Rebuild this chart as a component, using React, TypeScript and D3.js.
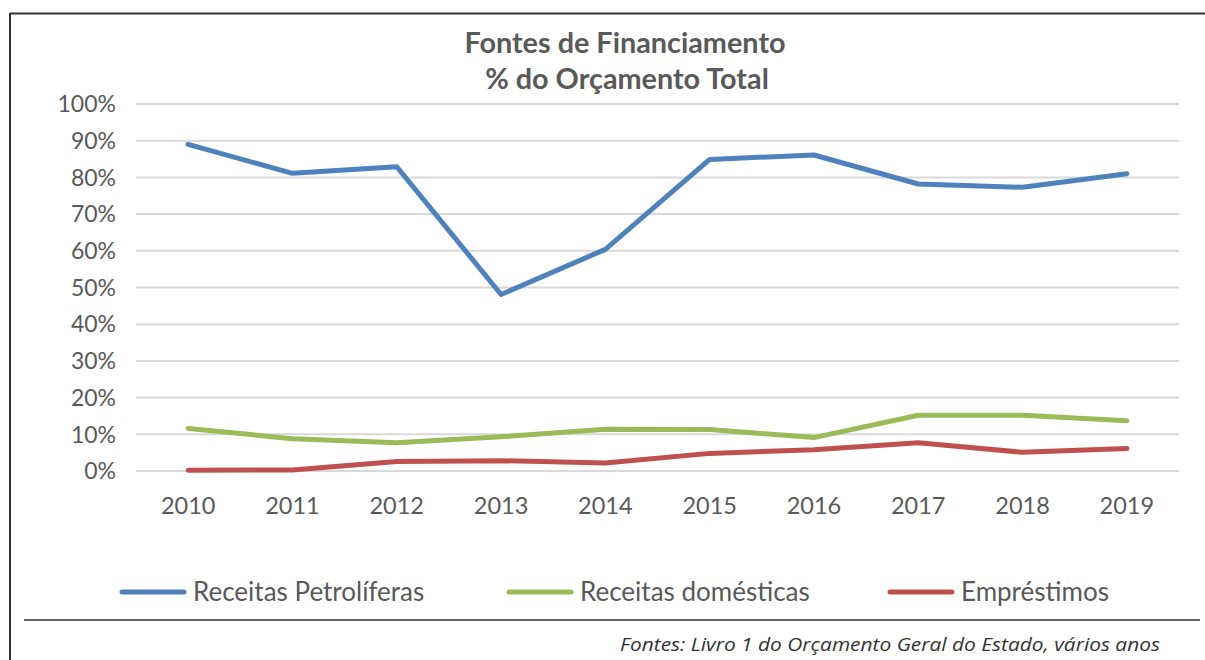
import React from "react";
import * as d3 from "d3";

const years = ["2010", "2011", "2012", "2013", "2014", "2015", "2016", "2017", "2018", "2019"];
const receitasPetroliferas = [89.0, 81.1, 82.9, 48.1, 60.4, 84.9, 86.1, 78.2, 77.3, 81.0];
const receitasDomesticas = [11.6, 8.8, 7.7, 9.3, 11.4, 11.3, 9.1, 15.2, 15.2, 13.7];
const emprestimos = [0.2, 0.3, 2.6, 2.8, 2.2, 4.8, 5.8, 7.7, 5.1, 6.1];
const yTicks = [0, 10, 20, 30, 40, 50, 60, 70, 80, 90, 100];

const seriesNames = ["Receitas Petrolíferas", "Receitas domésticas", "Empréstimos"];
const seriesColors = ["#4F81BD", "#9BBB59", "#C0504D"];
const seriesData = [receitasPetroliferas, receitasDomesticas, emprestimos];

const W = 1205;
const H = 660;
const plotLeft = 136;
const plotRight = 1179;
const plotTop = 104;
const plotBottom = 471;

const FONT = "Lato, 'Open Sans', sans-serif";
const TXT = "#595959";

export default function App() {
  const x = d3.scaleBand<string>().domain(years).range([plotLeft, plotRight]);
  const y = d3.scaleLinear().domain([0, 100]).range([plotBottom, plotTop]);
  const cx = (d: string) => (x(d) as number) + x.bandwidth() / 2;
  const line = d3
    .line<number>()
    .x((_, i) => cx(years[i]))
    .y((v) => y(v));

  const legendX = [120, 507, 888];

  return (
    <div style={{ position: "absolute", left: 0, top: 0 }}>
      <svg width={W} height={H} style={{ display: "block", background: "#fff" }}>
        {/* frame */}
        <line x1={10} y1={13.5} x2={W} y2={13.5} stroke="#333" strokeWidth={2} />
        <line x1={10} y1={13} x2={10} y2={H} stroke="#333" strokeWidth={2} />
        <line x1={24} y1={620} x2={1200} y2={620} stroke="#333" strokeWidth={1.5} />

        {/* title */}
        <text x={625} y={53} textAnchor="middle" fontFamily={FONT} fontWeight={700} fontSize={28.8} fill={TXT}>
          Fontes de Financiamento
        </text>
        <text x={627} y={89} textAnchor="middle" fontFamily={FONT} fontWeight={700} fontSize={28.8} fill={TXT}>
          % do Orçamento Total
        </text>

        {/* gridlines + y labels */}
        {yTicks.map((t) => (
          <g key={t}>
            <line x1={plotLeft} x2={plotRight} y1={y(t)} y2={y(t)} stroke="#D9D9D9" strokeWidth={2} />
            <text x={116} y={y(t)} dy="0.36em" textAnchor="end" fontFamily={FONT} fontSize={23} fill={TXT}>
              {t}%
            </text>
          </g>
        ))}

        {/* x labels */}
        {years.map((yr) => (
          <text key={yr} x={cx(yr)} y={506} dy="0.36em" textAnchor="middle" fontFamily={FONT} fontSize={23.5} fill={TXT}>
            {yr}
          </text>
        ))}

        {/* series */}
        {seriesData.map((s, i) => (
          <path
            key={seriesNames[i]}
            d={line(s) || ""}
            fill="none"
            stroke={seriesColors[i]}
            strokeWidth={5}
            strokeLinejoin="round"
            strokeLinecap="round"
          />
        ))}

        {/* legend */}
        {seriesNames.map((n, i) => (
          <g key={n}>
            <line
              x1={legendX[i] + 2}
              x2={legendX[i] + 64}
              y1={592}
              y2={592}
              stroke={seriesColors[i]}
              strokeWidth={5}
              strokeLinecap="round"
            />
            <text x={legendX[i] + 73} y={592} dy="0.36em" fontFamily={FONT} fontSize={26} fill={TXT}>
              {n}
            </text>
          </g>
        ))}

        {/* source */}
        <text
          x={620}
          y={651}
          textLength={540}
          lengthAdjust="spacingAndGlyphs"
          fontFamily="'Open Sans', sans-serif"
          fontStyle="italic"
          fontSize={19}
          fill="#333"
        >
          Fontes: Livro 1 do Orçamento Geral do Estado, vários anos
        </text>
      </svg>
    </div>
  );
}
